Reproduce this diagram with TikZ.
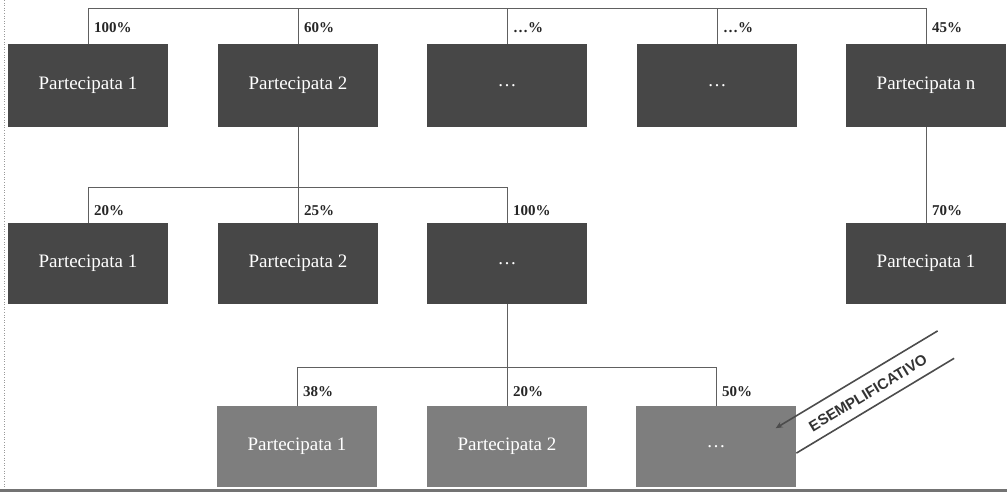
\documentclass[tikz,border=0pt]{standalone}
\usepackage{fontspec}
\setmainfont{Liberation Serif}
\newfontfamily\stampfont{Liberation Sans}
\usetikzlibrary{arrows.meta}
\definecolor{boxdark}{HTML}{474747}
\definecolor{boxlight}{HTML}{7E7E7E}
\definecolor{linegray}{HTML}{606060}
\begin{document}
\begin{tikzpicture}[x=1pt,y=-1pt,
  darkbox/.style={rectangle, fill=boxdark, text=white, minimum width=160, minimum height=83, inner sep=0pt, font=\fontsize{19}{21}\selectfont},
  lightbox/.style={darkbox, fill=boxlight, minimum height=81},
  link/.style={draw=linegray, line width=0.9pt},
  pct/.style={anchor=west, inner sep=0pt, font=\fontsize{15}{17}\selectfont\bfseries, text=black!85},
  stampline/.style={draw=black!70, line width=1.6pt}]
\useasboundingbox (0,0) rectangle (1007,495);
% row 1
\node[darkbox] (r1a) at (88,85.5) {Partecipata 1};
\node[darkbox] (r1b) at (298,85.5) {Partecipata 2};
\node[darkbox] (r1c) at (507,85.5) {…};
\node[darkbox] (r1d) at (717,85.5) {…};
\node[darkbox] (r1e) at (926,85.5) {Partecipata n};
% row 2
\node[darkbox, minimum height=81] (r2a) at (88,263.5) {Partecipata 1};
\node[darkbox, minimum height=81] (r2b) at (298,263.5) {Partecipata 2};
\node[darkbox, minimum height=81] (r2c) at (507,263.5) {…};
\node[darkbox, minimum height=81] (r2d) at (926,263.5) {Partecipata 1};
% row 3
\node[lightbox] (r3a) at (297,446.5) {Partecipata 1};
\node[lightbox] (r3b) at (507,446.5) {Partecipata 2};
\node[lightbox] (r3c) at (716,446.5) {…};
% bus coordinates
\coordinate (t) at (0,8);
\coordinate (m) at (0,187);
\coordinate (n) at (0,367);
% connectors row 1
\draw[link] (r1a.north) -- (r1a.north |- t) -| (r1e.north);
\draw[link] (r1b.north) -- (r1b.north |- t);
\draw[link] (r1c.north) -- (r1c.north |- t);
\draw[link] (r1d.north) -- (r1d.north |- t);
% connectors row 2
\draw[link] (r1b.south) -- (r2b.north);
\draw[link] (r2a.north) -- (r2a.north |- m) -| (r2c.north);
\draw[link] (r1e.south) -- (r2d.north);
% connectors row 3
\draw[link] (r2c.south) -- (r3b.north);
\draw[link] (r3a.north) -- (r3a.north |- n) -| (r3c.north);
% percentages
\node[pct] (p1a) at (94,28) {100\%};
\node[pct] (p1b) at (304,28) {60\%};
\node[pct] (p1c) at (513,28) {…\%};
\node[pct] (p1d) at (723,28) {…\%};
\node[pct] (p1e) at (932,28) {45\%};
\node[pct] (p2a) at (94,211) {20\%};
\node[pct] (p2b) at (304,211) {25\%};
\node[pct] (p2c) at (513,211) {100\%};
\node[pct] (p2d) at (932,211) {70\%};
\node[pct] (p3a) at (303,392) {38\%};
\node[pct] (p3b) at (513,392) {20\%};
\node[pct] (p3c) at (722,392) {50\%};
% frame lines
\draw[black!55, line width=3pt] (0,490) -- (1007,490);
\draw[black!40, dotted, line width=0.6pt] (4,0) -- (4,488);
% stamp
\begin{scope}[shift={(867,392)}, rotate=31]
  \draw[stampline, {Stealth[length=7pt,width=6pt]}-] (-97,-16) -- (92,-16);
  \draw[stampline] (-92,16) -- (92,16);
\end{scope}
\node[rotate=31, inner sep=0pt, text=black!80, font=\stampfont\bfseries\fontsize{15}{17}\selectfont] (stamp) at (868,393) {ESEMPLIFICATIVO};
\end{tikzpicture}
\end{document}
